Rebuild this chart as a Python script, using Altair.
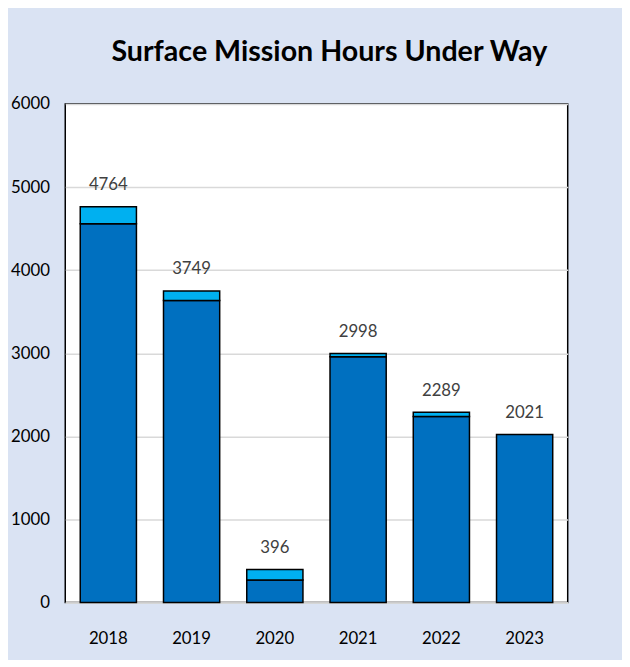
import altair as alt
import pandas as pd

years = ["2018", "2019", "2020", "2021", "2022", "2023"]
dark_part = [4560, 3634, 270, 2958, 2239, 2021]
light_part = [204, 115, 126, 40, 50, 0]
totals = [4764, 3749, 396, 2998, 2289, 2021]

rows = []
for y, d, l in zip(years, dark_part, light_part):
    rows.append({"year": y, "part": "main", "order": 0, "value": d})
    if l > 0:
        rows.append({"year": y, "part": "extra", "order": 1, "value": l})
df = pd.DataFrame(rows)
tot = pd.DataFrame({"year": years, "total": totals})

FONT = "Lato"

xscale = alt.Scale(paddingInner=0.325, paddingOuter=0.18)

x = alt.X("year:N", title=None, sort=years, scale=xscale,
          axis=alt.Axis(labelAngle=0, labelFontSize=17, labelColor="#000000",
                        labelFont=FONT, ticks=False, labelPadding=29,
                        domainColor="#d9d9d9", domainWidth=1.5))

bars = alt.Chart(df).mark_bar(stroke="#000000", strokeWidth=1.5).encode(
    x=x,
    y=alt.Y("value:Q", stack="zero", title=None,
            scale=alt.Scale(domain=[0, 6000], nice=False),
            axis=alt.Axis(values=[0, 1000, 2000, 3000, 4000, 5000, 6000],
                          format="d",
                          labelFontSize=17, labelColor="#000000", labelFont=FONT,
                          ticks=False, domain=False, labelPadding=16,
                          gridColor="#d9d9d9", gridWidth=1.5)),
    color=alt.Color("part:N", legend=None,
                    scale=alt.Scale(domain=["main", "extra"],
                                    range=["#0070c0", "#00b0f0"])),
    order=alt.Order("order:Q"),
)

labels = alt.Chart(tot).mark_text(baseline="bottom", dy=-13, fontSize=17,
                                  font=FONT, color="#404040").encode(
    x=alt.X("year:N", sort=years, scale=xscale),
    y=alt.Y("total:Q"),
    text=alt.Text("total:Q", format="d"),
)

chart = (bars + labels).properties(
    width=509, height=505,
    autosize=alt.AutoSizeParams(type="none"),
    padding={"left": 58, "top": 93, "right": 55, "bottom": 54},
    background="#dae3f3",
    title=alt.TitleParams("Surface Mission Hours Under Way", fontSize=29,
                          font=FONT, fontWeight="bold", color="#000000",
                          anchor="middle", dx=13, offset=29),
).configure_view(stroke="#000000", strokeWidth=1.5, fill="#ffffff")

chart.save("out.html", embed_options={"renderer": "svg", "actions": False})
